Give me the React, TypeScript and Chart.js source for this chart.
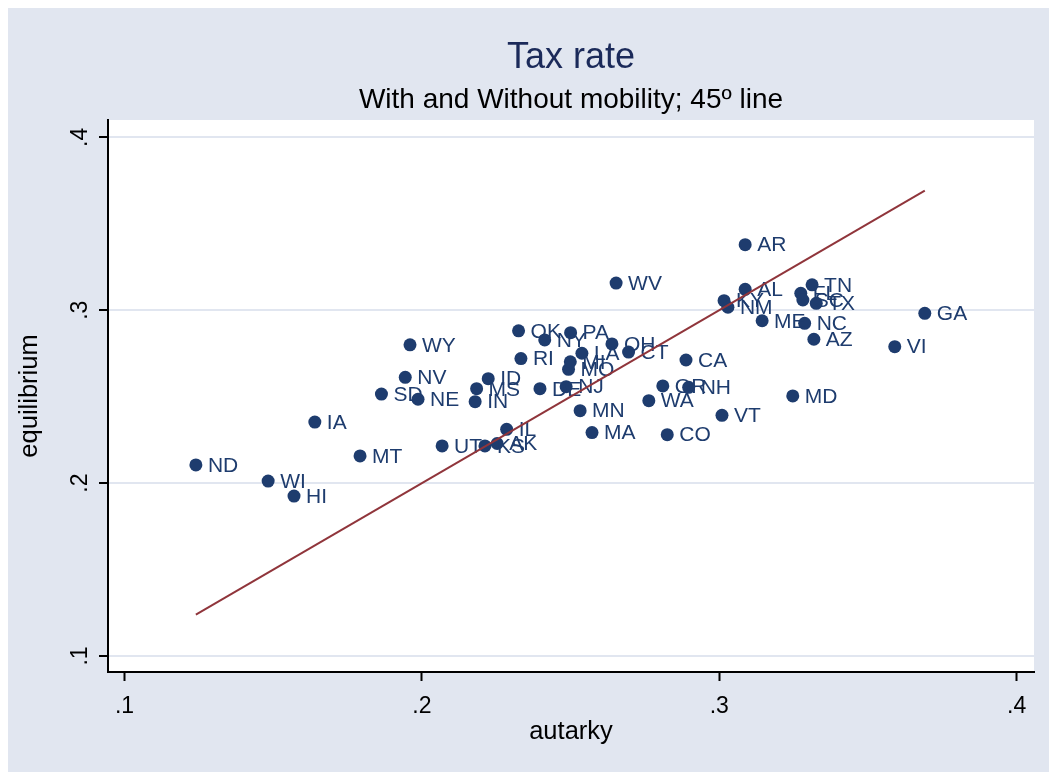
import React, { useEffect, useRef } from "react";
import { Chart, registerables } from "chart.js";

Chart.register(...registerables);

const states = [
  "ND", "WI", "HI", "IA", "MT", "SD", "NV", "WY", "NE", "UT",
  "IN", "MS", "KS", "ID", "AK", "IL", "OK", "RI", "DE", "NY",
  "NJ", "MO", "MI", "PA", "MN", "LA", "MA", "OH", "WV", "CT",
  "WA", "OR", "CO", "CA", "NH", "VT", "KY", "NM", "AR", "AL",
  "ME", "MD", "FL", "SC", "NC", "TN", "AZ", "TX", "VI", "GA",
];
const autarky = [
  0.124, 0.1483, 0.157, 0.164, 0.1792, 0.1864, 0.1944, 0.196, 0.1987, 0.2068,
  0.2179, 0.2184, 0.2212, 0.2223, 0.2253, 0.2285, 0.2325, 0.2333, 0.2397, 0.2413,
  0.2485, 0.2493, 0.2499, 0.25, 0.2532, 0.2538, 0.2572, 0.2639, 0.2653, 0.2695,
  0.2763, 0.281, 0.2825, 0.2888, 0.2897, 0.3009, 0.3016, 0.3029, 0.3087, 0.3087,
  0.3144, 0.3247, 0.3274, 0.3281, 0.3287, 0.3312, 0.3318, 0.3326, 0.359, 0.3691,
];
const equilibrium = [
  0.2105, 0.2012, 0.1925, 0.2353, 0.2157, 0.2515, 0.2612, 0.28, 0.2485, 0.2215,
  0.2471, 0.2546, 0.2215, 0.2604, 0.2229, 0.2311, 0.2881, 0.272, 0.2546, 0.2828,
  0.2558, 0.2658, 0.2702, 0.287, 0.2419, 0.2751, 0.2292, 0.2805, 0.3157, 0.2758,
  0.2477, 0.2562, 0.228, 0.2712, 0.2554, 0.2392, 0.3055, 0.3017, 0.3379, 0.3121,
  0.2939, 0.2504, 0.3098, 0.3059, 0.2924, 0.3147, 0.2832, 0.304, 0.2789, 0.2982,
];
const xTickValues = [0.1, 0.2, 0.3, 0.4];
const xTickLabels = [".1", ".2", ".3", ".4"];
const yTickValues = [0.1, 0.2, 0.3, 0.4];
const yTickLabels = [".1", ".2", ".3", ".4"];

const titleText = "Tax rate";
const subtitleText = "With and Without mobility; 45º line";
const xTitle = "autarky";
const yTitle = "equilibrium";

const FONT = "'Liberation Sans', Arial, sans-serif";
const BG = "#E1E6F0";
const NAVY = "#1E3C6E";
const MAROON = "#90353B";

export default function App() {
  const ref = useRef<HTMLCanvasElement | null>(null);

  useEffect(() => {
    if (!ref.current) return;
    const lo = Math.min(...autarky);
    const hi = Math.max(...autarky);
    const points = autarky.map((x, i) => ({ x, y: equilibrium[i] }));

    const decor = {
      id: "decor",
      beforeDraw(chart: any) {
        const { ctx, chartArea } = chart;
        ctx.save();
        ctx.fillStyle = BG;
        ctx.fillRect(0, 0, chart.width, chart.height);
        ctx.fillStyle = "#FFFFFF";
        ctx.fillRect(chartArea.left, chartArea.top, chartArea.right - chartArea.left, chartArea.bottom - chartArea.top);
        ctx.restore();
      },
      afterDatasetDraw(chart: any, args: any) {
        if (args.index !== 1) return;
        const { ctx } = chart;
        const meta = chart.getDatasetMeta(1);
        ctx.save();
        ctx.font = `21px ${FONT}`;
        ctx.fillStyle = NAVY;
        ctx.textAlign = "left";
        ctx.textBaseline = "middle";
        meta.data.forEach((el: any, i: number) => {
          ctx.fillText(states[i], el.x + 12, el.y + 1);
        });
        ctx.restore();
      },
      afterDraw(chart: any) {
        const { ctx, chartArea, scales } = chart;
        const cx = (chartArea.left + chartArea.right) / 2;
        ctx.save();
        ctx.textAlign = "center";
        ctx.textBaseline = "alphabetic";
        ctx.fillStyle = "#1B2A5A";
        ctx.font = `36px ${FONT}`;
        ctx.fillText(titleText, cx, 60);
        ctx.fillStyle = "#000000";
        ctx.font = `28px ${FONT}`;
        ctx.fillText(subtitleText, cx, 100);
        // rotated y tick labels
        ctx.font = `23px ${FONT}`;
        yTickValues.forEach((v, i) => {
          const py = scales.y.getPixelForValue(v);
          ctx.save();
          ctx.translate(chartArea.left - 21, py);
          ctx.rotate(-Math.PI / 2);
          ctx.textAlign = "center";
          ctx.textBaseline = "alphabetic";
          ctx.fillText(yTickLabels[i], 0, 0);
          ctx.restore();
        });
        ctx.restore();
      },
    };

    const chart = new Chart(ref.current, {
      type: "scatter",
      data: {
        datasets: [
          {
            type: "line",
            data: [
              { x: lo, y: lo },
              { x: hi, y: hi },
            ],
            borderColor: MAROON,
            borderWidth: 2,
            pointRadius: 0,
            fill: false,
          } as any,
          {
            data: points,
            backgroundColor: NAVY,
            borderWidth: 0,
            pointRadius: 6.5,
            pointHoverRadius: 6.5,
          },
        ],
      },
      plugins: [decor],
      options: {
        responsive: false,
        animation: false,
        events: [],
        layout: { padding: { top: 112, right: 15, bottom: 0, left: 0 } },
        plugins: {
          legend: { display: false },
          tooltip: { enabled: false },
          title: { display: false },
        },
        scales: {
          x: {
            type: "linear",
            min: 0.09445,
            max: 0.40582,
            afterBuildTicks: (s: any) => {
              s.ticks = xTickValues.map((v) => ({ value: v }));
            },
            afterFit: (s: any) => {
              s.height = 100;
            },
            ticks: {
              autoSkip: false,
              maxRotation: 0,
              color: "#000000",
              font: { family: FONT, size: 23 },
              padding: 12,
              callback: (_v: any, i: number) => xTickLabels[i],
            },
            grid: {
              drawOnChartArea: false,
              tickLength: 9,
              tickColor: "#000000",
              tickWidth: 2,
            },
            border: { color: "#000000", width: 2 },
            title: {
              display: true,
              text: xTitle,
              color: "#000000",
              font: { family: FONT, size: 25.5 },
              padding: { top: 0, bottom: 25 },
            },
          },
          y: {
            type: "linear",
            min: 0.09075,
            max: 0.41001,
            afterBuildTicks: (s: any) => {
              s.ticks = yTickValues.map((v) => ({ value: v }));
            },
            afterFit: (s: any) => {
              s.width = 100;
            },
            ticks: { display: false },
            grid: {
              drawOnChartArea: true,
              color: "#E1E6F0",
              lineWidth: 2,
              tickLength: 9,
              tickColor: "#000000",
              tickWidth: 2,
            },
            border: { color: "#000000", width: 2 },
            title: {
              display: true,
              text: yTitle,
              color: "#000000",
              font: { family: FONT, size: 25.5 },
              padding: { top: 7, bottom: 0 },
            },
          },
        },
      } as any,
    });
    return () => chart.destroy();
  }, []);

  return (
    <div style={{ position: "absolute", left: 8, top: 8, width: 1041, height: 764 }}>
      <canvas ref={ref} width={1041} height={764} style={{ display: "block" }} />
    </div>
  );
}
